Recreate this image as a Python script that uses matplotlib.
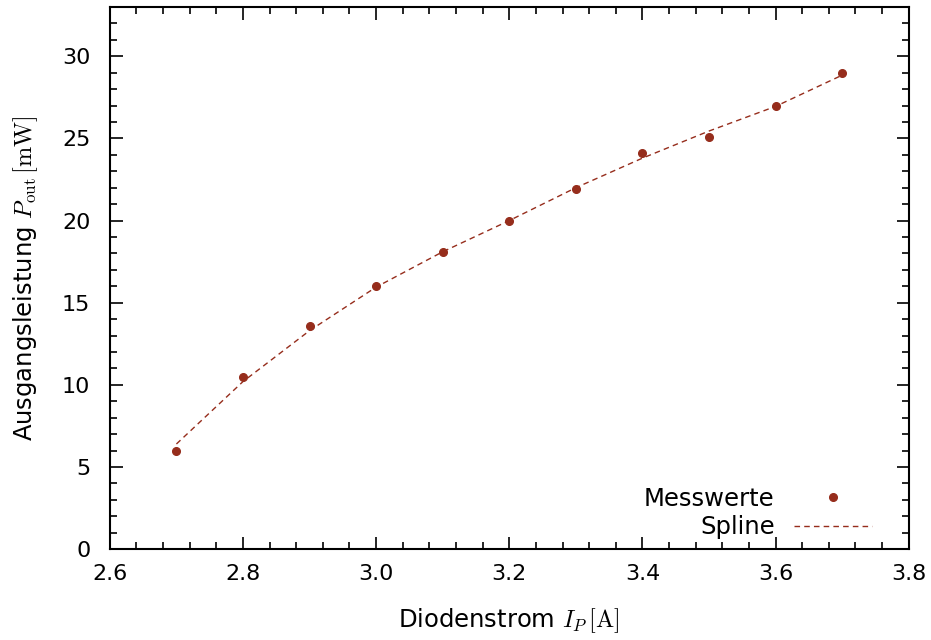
import matplotlib
matplotlib.use("Agg")
from matplotlib import pyplot as plt
from matplotlib.ticker import MultipleLocator

# Messwerte
strom = [2.7, 2.8, 2.9, 3.0, 3.1, 3.2, 3.3, 3.4, 3.5, 3.6, 3.7]
leistung = [6.0, 10.5, 13.6, 16.0, 18.1, 20.0, 21.9, 24.1, 25.1, 27.0, 29.0]
# spline at the same currents
spline = [6.4, 10.2, 13.3, 15.95, 18.1, 20.0, 22.0, 23.8, 25.45, 26.95, 28.85]

plt.rcParams["font.family"] = ["DejaVu Sans"]
plt.rcParams["mathtext.fontset"] = "cm"

ROT = "#962d1c"

fig, ax = plt.subplots(figsize=(9.31, 6.4), dpi=100)
fig.subplots_adjust(left=0.118, right=0.976, top=0.989, bottom=0.142)

ax.plot(strom, leistung, "o", color=ROT, ms=5.5, label="Messwerte")
ax.plot(strom, spline, "--", color=ROT, lw=1.0, dashes=(4, 3), label="Spline")

ax.set_xlim(2.6, 3.8)
ax.set_ylim(0, 33)
ax.xaxis.set_major_locator(MultipleLocator(0.2))
ax.xaxis.set_minor_locator(MultipleLocator(0.04))
ax.yaxis.set_major_locator(MultipleLocator(5))
ax.yaxis.set_minor_locator(MultipleLocator(1))
ax.xaxis.set_major_formatter(matplotlib.ticker.FormatStrFormatter("%.1f"))

ax.tick_params(which="both", direction="in", top=True, right=True, labelsize=16, width=1.2)
ax.tick_params(which="major", length=9)
ax.tick_params(which="minor", length=5)
ax.tick_params(axis="x", which="major", pad=11)
ax.tick_params(axis="y", which="major", pad=14)
for s in ax.spines.values():
    s.set_linewidth(1.5)

ax.set_xlabel(r"Diodenstrom $I_P\,[\mathrm{A}]$", fontsize=17.5, labelpad=16)
ax.set_ylabel(r"Ausgangsleistung $P_\mathrm{out}\,[\mathrm{mW}]$", fontsize=17.5, labelpad=16)

ax.legend(loc="lower right", bbox_to_anchor=(0.966, 0.0), frameon=False, markerfirst=False,
          fontsize=17.5, handlelength=3.2, handletextpad=0.8, borderaxespad=0,
          labelspacing=0.2)

fig.savefig("out.png", dpi=100)
